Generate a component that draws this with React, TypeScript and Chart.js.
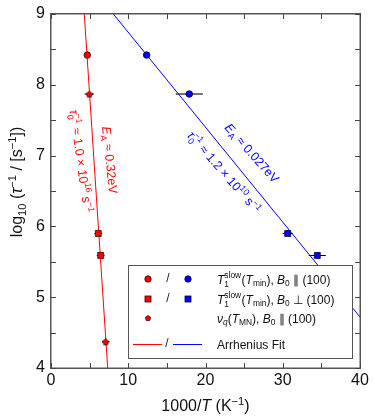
import React, { useEffect, useRef } from 'react';
import { Chart, registerables } from 'chart.js';

Chart.register(...registerables);

const FONT = '"Liberation Sans", Arial, sans-serif';

const xTicks = [0, 10, 20, 30, 40];
const xMinorTicks = [5, 15, 25, 35];
const yTicks = [4, 5, 6, 7, 8, 9];
const yMinorTicks = [4.5, 5.5, 6.5, 7.5, 8.5];

const redCircleX = [4.7];
const redCircleY = [8.42];

const blueCircleX = [12.38, 17.9];
const blueCircleY = [8.42, 7.87];
const blueCircleXErr = [0, 1.75];
const blueCircleYErr = [0, 0];

const redSquareX = [6.12, 6.43];
const redSquareY = [5.9, 5.59];
const redSquareXErr = [0.5, 0.5];
const redSquareYErr = [0.04, 0.04];

const blueSquareX = [30.64, 34.47];
const blueSquareY = [5.9, 5.59];
const blueSquareXErr = [0.65, 1.1];
const blueSquareYErr = [0.04, 0.04];

const redPentX = [4.96, 7.08];
const redPentY = [7.87, 4.37];
const redPentXErr = [0.6, 0.5];
const redPentYErr = [0.03, 0.05];

const redFitX = [4.31, 7.34];
const redFitY = [9, 4];
const blueFitX = [8.07, 40];
const blueFitY = [9, 4.72];

const RED = '#ff0000';
const BLUE = '#0000ff';
const EDGE_R = '#3a0000';
const EDGE_B = '#00003a';
const FRAME = '#555555';

type Seg = { t?: string; k?: 'n' | 'i' | 'sup' | 'sub' | 'subi'; sup?: string; sub?: string };

function drawRich(ctx: CanvasRenderingContext2D, segs: Seg[], x: number, y: number, size: number, align: 'left' | 'center', color: string) {
  const small = size * 0.7;
  const items: any[] = [];
  let w = 0;
  for (const s of segs) {
    if (s.sup !== undefined || s.sub !== undefined) {
      ctx.font = `${small}px ${FONT}`;
      const w1 = s.sup ? ctx.measureText(s.sup).width : 0;
      const w2 = s.sub ? ctx.measureText(s.sub).width : 0;
      items.push({ stack: true, sup: s.sup, sub: s.sub, w: Math.max(w1, w2) + 0.5 });
      w += Math.max(w1, w2) + 0.5;
    } else {
      const k = s.k || 'n';
      let font = `${size}px ${FONT}`;
      let dy = 0;
      if (k === 'i') font = `italic ${size}px ${FONT}`;
      if (k === 'sup') { font = `${small}px ${FONT}`; dy = -0.4 * size; }
      if (k === 'sub') { font = `${small}px ${FONT}`; dy = 0.22 * size; }
      if (k === 'subi') { font = `italic ${small}px ${FONT}`; dy = 0.22 * size; }
      ctx.font = font;
      const tw = ctx.measureText(s.t || '').width;
      items.push({ t: s.t, font, dy, w: tw });
      w += tw;
    }
  }
  let cx = align === 'center' ? x - w / 2 : x;
  ctx.fillStyle = color;
  ctx.textAlign = 'left';
  ctx.textBaseline = 'alphabetic';
  for (const it of items) {
    if (it.stack) {
      ctx.font = `${small}px ${FONT}`;
      if (it.sup) ctx.fillText(it.sup, cx, y - 0.42 * size);
      if (it.sub) ctx.fillText(it.sub, cx, y + 0.25 * size);
    } else {
      ctx.font = it.font;
      ctx.fillText(it.t, cx, y + it.dy);
    }
    cx += it.w;
  }
}

function drawRotated(ctx: CanvasRenderingContext2D, segs: Seg[], cx: number, cy: number, deg: number, size: number, color: string) {
  ctx.save();
  ctx.translate(cx, cy);
  ctx.rotate((deg * Math.PI) / 180);
  drawRich(ctx, segs, 0, size * 0.35, size, 'center', color);
  ctx.restore();
}

function pentPath(ctx: CanvasRenderingContext2D, x: number, y: number, r: number) {
  ctx.beginPath();
  for (let i = 0; i < 5; i++) {
    const a = -Math.PI / 2 + (i * 2 * Math.PI) / 5;
    const px = x + r * Math.cos(a);
    const py = y + r * Math.sin(a);
    if (i === 0) ctx.moveTo(px, py); else ctx.lineTo(px, py);
  }
  ctx.closePath();
}

function makePentagon(r: number, fill: string, stroke: string) {
  const c = document.createElement('canvas');
  const s = Math.ceil(2 * r + 4);
  c.width = s;
  c.height = s;
  const g = c.getContext('2d')!;
  pentPath(g, s / 2, s / 2 + 0.4, r);
  g.fillStyle = fill;
  g.fill();
  g.strokeStyle = stroke;
  g.lineWidth = 0.8;
  g.stroke();
  return c;
}

const pts = (xs: number[], ys: number[]) => xs.map((x, i) => ({ x, y: ys[i] }));

const lblEa: Seg[] = [{ t: 'E', k: 'i' }, { t: 'A', k: 'sub' }, { t: ' ≈ 0.32eV' }];
const lblTauR: Seg[] = [{ t: 'τ', k: 'i' }, { sup: '−1', sub: '0' }, { t: ' ≈ 1.0 × 10' }, { t: '16', k: 'sup' }, { t: ' s' }, { t: '−1', k: 'sup' }];
const lblEaB: Seg[] = [{ t: 'E', k: 'i' }, { t: 'A', k: 'sub' }, { t: ' ≈ 0.027eV' }];
const lblTauB: Seg[] = [{ t: 'τ', k: 'i' }, { sup: '−1', sub: '0' }, { t: ' ≈ 1.2 × 10' }, { t: '10', k: 'sup' }, { t: ' s' }, { t: '−1', k: 'sup' }];

const legendRows: Seg[][] = [
  [{ t: 'T', k: 'i' }, { sup: 'slow', sub: '1' }, { t: '(' }, { t: 'T', k: 'i' }, { t: 'min', k: 'sub' }, { t: '), ' }, { t: 'B', k: 'i' }, { t: '0', k: 'sub' }, { t: ' ∥ (100)' }],
  [{ t: 'T', k: 'i' }, { sup: 'slow', sub: '1' }, { t: '(' }, { t: 'T', k: 'i' }, { t: 'min', k: 'sub' }, { t: '), ' }, { t: 'B', k: 'i' }, { t: '0', k: 'sub' }, { t: ' ⊥ (100)' }],
  [{ t: 'ν', k: 'i' }, { t: 'q', k: 'subi' }, { t: '(' }, { t: 'T', k: 'i' }, { t: 'MN', k: 'sub' }, { t: '), ' }, { t: 'B', k: 'i' }, { t: '0', k: 'sub' }, { t: ' ∥ (100)' }],
  [{ t: 'Arrhenius Fit' }],
];

const xTitle: Seg[] = [{ t: '1000/' }, { t: 'T', k: 'i' }, { t: ' (K' }, { t: '−1', k: 'sup' }, { t: ')' }];
const yTitle: Seg[] = [{ t: 'log' }, { t: '10', k: 'sub' }, { t: ' (' }, { t: 'τ', k: 'i' }, { t: '−1', k: 'sup' }, { t: ' / [s' }, { t: '−1', k: 'sup' }, { t: '])' }];

const errorBarPlugin = {
  id: 'errbars',
  beforeDatasetsDraw(chart: any) {
    const ctx = chart.ctx;
    const xs = chart.scales.x;
    const ys = chart.scales.y;
    ctx.save();
    ctx.strokeStyle = '#000';
    ctx.lineWidth = 1.1;
    chart.data.datasets.forEach((ds: any) => {
      if (!ds.xErr) return;
      ds.data.forEach((p: any, i: number) => {
        const ex = ds.xErr[i] || 0;
        const ey = ds.yErr[i] || 0;
        const px = xs.getPixelForValue(p.x);
        const py = ys.getPixelForValue(p.y);
        ctx.beginPath();
        if (ex > 0) {
          ctx.moveTo(xs.getPixelForValue(p.x - ex), py);
          ctx.lineTo(xs.getPixelForValue(p.x + ex), py);
        }
        if (ey > 0) {
          ctx.moveTo(px, ys.getPixelForValue(p.y - ey));
          ctx.lineTo(px, ys.getPixelForValue(p.y + ey));
        }
        ctx.stroke();
      });
    });
    ctx.restore();
  },
};

const decoPlugin = {
  id: 'deco',
  afterDatasetsDraw(chart: any) {
    const ctx: CanvasRenderingContext2D = chart.ctx;
    const ca = chart.chartArea;
    const xs = chart.scales.x;
    const ys = chart.scales.y;
    ctx.save();

    // annotations
    drawRotated(ctx, lblEa, 110, 160, 84, 12.5, RED);
    drawRotated(ctx, lblTauR, 81, 161, 82, 12.5, RED);
    drawRotated(ctx, lblEaB, 252, 153, 48.5, 12.5, BLUE);
    drawRotated(ctx, lblTauB, 224, 172, 49, 12.5, BLUE);

    // legend box
    const lx = 128, ly = 265, lw = 224, lh = 93;
    ctx.fillStyle = '#fff';
    ctx.fillRect(lx, ly, lw, lh);
    ctx.strokeStyle = FRAME;
    ctx.lineWidth = 1;
    ctx.strokeRect(lx + 0.5, ly + 0.5, lw, lh);

    const rowsY = [279, 299, 318, 344];
    const slash = (y: number, x: number) => {
      ctx.fillStyle = '#222';
      ctx.font = `12px ${FONT}`;
      ctx.textAlign = 'center';
      ctx.textBaseline = 'middle';
      ctx.fillText('/', x, y);
    };
    const circ = (x: number, y: number, f: string, s: string) => {
      ctx.beginPath();
      ctx.arc(x, y, 3.2, 0, Math.PI * 2);
      ctx.fillStyle = f; ctx.fill();
      ctx.strokeStyle = s; ctx.lineWidth = 0.8; ctx.stroke();
    };
    const sq = (x: number, y: number, f: string, s: string) => {
      ctx.fillStyle = f; ctx.fillRect(x - 3, y - 3, 6, 6);
      ctx.strokeStyle = s; ctx.lineWidth = 0.8; ctx.strokeRect(x - 3, y - 3, 6, 6);
    };
    circ(148, rowsY[0], RED, EDGE_R); slash(rowsY[0], 168); circ(188, rowsY[0], BLUE, EDGE_B);
    sq(148, rowsY[1], RED, EDGE_R); slash(rowsY[1], 168); sq(188, rowsY[1], BLUE, EDGE_B);
    pentPath(ctx, 148, rowsY[2] + 0.3, 2.8);
    ctx.fillStyle = RED; ctx.fill(); ctx.strokeStyle = EDGE_R; ctx.lineWidth = 0.8; ctx.stroke();
    ctx.lineWidth = 1;
    ctx.strokeStyle = RED;
    ctx.beginPath(); ctx.moveTo(133, rowsY[3] + 0.5); ctx.lineTo(162, rowsY[3] + 0.5); ctx.stroke();
    slash(rowsY[3], 167);
    ctx.strokeStyle = BLUE;
    ctx.beginPath(); ctx.moveTo(173, rowsY[3] + 0.5); ctx.lineTo(202, rowsY[3] + 0.5); ctx.stroke();
    legendRows.forEach((r, i) => drawRich(ctx, r, 217, rowsY[i] + 4.5, 12, 'left', '#111'));

    // frame
    const L = Math.round(ca.left), R = Math.round(ca.right), T = Math.round(ca.top), B = Math.round(ca.bottom);
    ctx.fillStyle = FRAME;
    ctx.fillRect(L - 1, T - 1, R - L + 2, 1.5);
    ctx.fillRect(L - 1, B - 0.5, R - L + 2, 1.5);
    ctx.fillRect(L - 1, T - 1, 1.5, B - T + 2);
    ctx.fillRect(R - 0.5, T - 1, 1.5, B - T + 2);

    // inward ticks on all sides
    const tl = 5;
    ctx.fillStyle = '#444';
    [...xTicks, ...xMinorTicks].forEach((v) => {
      const px = Math.round(xs.getPixelForValue(v));
      ctx.fillRect(px, B - tl, 1, tl);
      ctx.fillRect(px, T, 1, tl);
    });
    [...yTicks, ...yMinorTicks].forEach((v) => {
      const py = Math.round(ys.getPixelForValue(v));
      ctx.fillRect(L, py, tl, 1);
      ctx.fillRect(R - tl, py, tl, 1);
    });

    // axis titles
    drawRich(ctx, xTitle, (ca.left + ca.right) / 2, 411, 16, 'center', '#111');
    ctx.save();
    ctx.translate(16, 182);
    ctx.rotate(-Math.PI / 2);
    drawRich(ctx, yTitle, 0, 6, 16, 'center', '#111');
    ctx.restore();

    ctx.restore();
  },
};

export default function App() {
  const ref = useRef<HTMLCanvasElement | null>(null);
  useEffect(() => {
    document.body.style.margin = '0';
    const canvas = ref.current!;
    const pent = makePentagon(3.2, RED, EDGE_R);
    const chart = new Chart(canvas, {
      type: 'scatter',
      data: {
        datasets: [
          { data: pts(redCircleX, redCircleY), pointStyle: 'circle', pointRadius: 3.3, backgroundColor: RED, borderColor: EDGE_R, borderWidth: 0.8, order: 0 } as any,
          { data: pts(blueCircleX, blueCircleY), pointStyle: 'circle', pointRadius: 3.3, backgroundColor: BLUE, borderColor: EDGE_B, borderWidth: 0.8, xErr: blueCircleXErr, yErr: blueCircleYErr, order: 0 } as any,
          { data: pts(redSquareX, redSquareY), pointStyle: 'rect', pointRadius: 4.2, backgroundColor: RED, borderColor: EDGE_R, borderWidth: 0.8, xErr: redSquareXErr, yErr: redSquareYErr, order: 0 } as any,
          { data: pts(blueSquareX, blueSquareY), pointStyle: 'rect', pointRadius: 4.2, backgroundColor: BLUE, borderColor: EDGE_B, borderWidth: 0.8, xErr: blueSquareXErr, yErr: blueSquareYErr, order: 0 } as any,
          { data: pts(redPentX, redPentY), pointStyle: pent, pointRadius: 3.3, backgroundColor: RED, borderColor: EDGE_R, xErr: redPentXErr, yErr: redPentYErr, order: 0 } as any,
          { data: pts(redFitX, redFitY), showLine: true, pointRadius: 0, borderColor: RED, borderWidth: 1, fill: false, order: 10 } as any,
          { data: pts(blueFitX, blueFitY), showLine: true, pointRadius: 0, borderColor: BLUE, borderWidth: 1, fill: false, order: 10 } as any,
        ],
      },
      options: {
        animation: false,
        responsive: false,
        events: [],
        layout: { padding: { top: 11, right: 14, left: 0, bottom: 0 } },
        plugins: { legend: { display: false }, tooltip: { enabled: false } },
        scales: {
          x: {
            type: 'linear',
            min: 0,
            max: 40,
            afterBuildTicks: (s: any) => { s.ticks = xTicks.map((v) => ({ value: v })); },
            afterFit: (s: any) => { s.height = 52; },
            ticks: { color: '#111', font: { family: FONT, size: 16 }, padding: 3, maxRotation: 0, autoSkip: false },
            grid: { display: false, drawTicks: false },
            border: { display: false },
          },
          y: {
            type: 'linear',
            min: 4,
            max: 9,
            afterBuildTicks: (s: any) => { s.ticks = yTicks.map((v) => ({ value: v })); },
            afterFit: (s: any) => { s.width = 51; },
            ticks: { color: '#111', font: { family: FONT, size: 16, lineHeight: 1 }, padding: 6, autoSkip: false },
            grid: { display: false, drawTicks: false },
            border: { display: false },
          },
        },
      } as any,
      plugins: [errorBarPlugin, decoPlugin],
    });
    return () => chart.destroy();
  }, []);
  return (
    <div style={{ position: 'absolute', left: 0, top: 0, width: 374, height: 420, background: '#fff' }}>
      <canvas ref={ref} width={374} height={420} style={{ display: 'block' }} />
    </div>
  );
}
